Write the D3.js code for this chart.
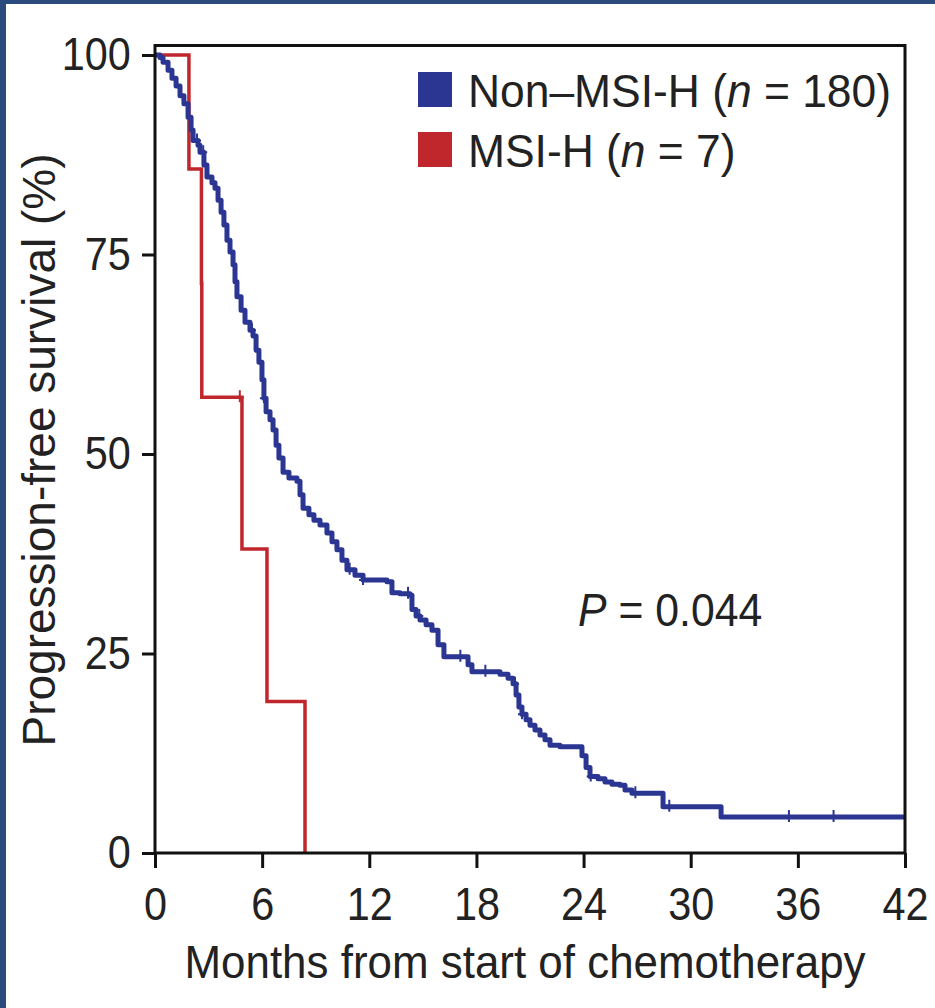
<!DOCTYPE html>
<html>
<head>
<meta charset="utf-8">
<script src="https://cdn.jsdelivr.net/npm/d3@7"></script>
<style>
  html, body { margin: 0; padding: 0; background: #ffffff; }
  svg { display: block; }
  text { font-family: "Liberation Sans", Arial, Helvetica, sans-serif; fill: #222; }
</style>
</head>
<body>
<svg id="chart" width="935" height="1008"></svg>
<script>
// ---------- Data ----------
const xTicks = [0, 6, 12, 18, 24, 30, 36, 42];
const yTicks = [0, 25, 50, 75, 100];

const seriesNames = ["Non\u2013MSI-H", "MSI-H"];
const seriesN = [180, 7];

// Non-MSI-H Kaplan–Meier steps: time (months), survival (%)
const blueTimes = [0, 0.28, 0.45, 0.73, 0.95, 1.18, 1.40, 1.62, 1.85, 2.02, 2.13, 2.41, 2.52, 2.74, 2.91, 3.19, 3.36, 3.53, 3.70, 3.86, 4.03, 4.20, 4.37, 4.48, 4.59, 4.82, 5.04, 5.32, 5.49, 5.66, 5.82, 5.99, 6.10, 6.22, 6.44, 6.61, 6.78, 6.94, 7.17, 7.50, 7.95, 8.12, 8.29, 8.62, 8.90, 9.24, 9.63, 9.91, 10.19, 10.47, 10.75, 11.20, 11.65, 12.32, 12.99, 13.27, 13.72, 14.28, 14.39, 14.62, 14.84, 15.18, 15.51, 15.85, 16.18, 16.63, 17.53, 17.75, 19.32, 19.77, 20.05, 20.22, 20.38, 20.55, 20.78, 21.00, 21.28, 21.56, 21.84, 22.12, 22.68, 23.91, 24.14, 24.36, 24.81, 25.20, 25.59, 26.04, 26.32, 26.71, 28.45, 31.70, 42];
const blueSurv  = [100, 99.7, 99.1, 98.1, 97.1, 96.1, 94.9, 93.9, 92.2, 90.6, 89.3, 88.7, 87.8, 86.2, 84.7, 84.0, 83.3, 81.8, 80.3, 78.7, 76.8, 75.3, 73.7, 71.6, 69.7, 68.0, 66.5, 65.5, 64.8, 63.0, 61.5, 59.3, 57.0, 55.3, 54.3, 53.0, 51.1, 49.5, 47.7, 47.0, 46.6, 44.9, 43.2, 42.4, 41.7, 41.1, 40.1, 39.0, 38.0, 36.7, 35.5, 34.8, 34.2, 34.2, 34.0, 32.6, 32.5, 32.3, 30.5, 29.7, 29.2, 28.6, 27.9, 26.1, 24.6, 24.6, 23.6, 22.7, 22.4, 21.9, 21.2, 19.8, 18.3, 17.4, 16.7, 16.0, 15.4, 14.8, 14.2, 13.5, 13.3, 12.2, 10.7, 9.6, 9.3, 8.9, 8.6, 8.5, 7.9, 7.5, 5.8, 4.5, 4.5];
const blueCensor = [2.35, 2.7, 5.43, 6.1, 10.9, 11.65, 14.17, 14.8, 17.1, 18.5, 20.16, 20.55, 24.4, 26.9, 28.8, 35.5, 38.0];

// MSI-H Kaplan–Meier steps
const redTimes = [0, 1.9, 2.6, 2.62, 4.87, 6.27, 8.4];
const redSurv  = [100, 85.7, 71.4, 57.1, 38.1, 19.0, 0];
const redCensor = [4.75];

const pValueLabel = "0.044";

// ---------- Chart ----------
const svg = d3.select("#chart");
const W = 935, H = 1008;

svg.append("rect").attr("width", W).attr("height", H).attr("fill", "#ffffff");
// navy page border (top and left)
svg.append("rect").attr("x", 0).attr("y", 0).attr("width", W).attr("height", 4).attr("fill", "#2a4b7c");
svg.append("rect").attr("x", 0).attr("y", 0).attr("width", 6).attr("height", H).attr("fill", "#2a4b7c");

const x = d3.scaleLinear().domain([0, 42]).range([155, 905]);
const y = d3.scaleLinear().domain([0, 100]).range([853, 55]);

const blueColor = "#2b3592";
const redColor = "#c0272d";

// curves
const line = d3.line().x(d => x(d[0])).y(d => y(d[1])).curve(d3.curveStepAfter);
const blueData = blueTimes.map((t, i) => [t, blueSurv[i]]);
const redData = redTimes.map((t, i) => [t, redSurv[i]]);

function survAt(times, surv, t) {
  const i = d3.bisectRight(times, t) - 1;
  return surv[Math.max(0, i)];
}

svg.append("path").datum(redData).attr("d", line)
  .attr("fill", "none").attr("stroke", redColor).attr("stroke-width", 3.5);

svg.append("path").datum(blueData).attr("d", line)
  .attr("fill", "none").attr("stroke", blueColor).attr("stroke-width", 5)
  .attr("stroke-linejoin", "round");

// censor marks
function censor(times, surv, list, color) {
  svg.append("g").selectAll("path").data(list).join("path")
    .attr("d", t => {
      const cx = x(t), cy = y(survAt(times, surv, t));
      return `M${cx},${cy - 7}V${cy + 5}M${cx - 4},${cy}H${cx + 4}`;
    })
    .attr("stroke", color).attr("stroke-width", 2).attr("fill", "none");
}
censor(blueTimes, blueSurv, blueCensor, blueColor);
censor(redTimes, redSurv, redCensor, redColor);

// frame (axes box)
svg.append("path")
  .attr("d", `M${x(0)},${y(0)}V${y(101.2)}H${x(42)}V${y(0)}Z`)
  .attr("fill", "none").attr("stroke", "#111").attr("stroke-width", 3);

// axes
const xAxis = svg.append("g").attr("transform", `translate(0,${y(0)})`)
  .call(d3.axisBottom(x).tickValues(xTicks).tickSize(15).tickPadding(19));
const yAxis = svg.append("g").attr("transform", `translate(${x(0)},0)`)
  .call(d3.axisLeft(y).tickValues(yTicks).tickSize(13).tickPadding(14));
[xAxis, yAxis].forEach(a => {
  a.select(".domain").remove();
  a.selectAll(".tick line").attr("stroke", "#111").attr("stroke-width", 3);
  a.selectAll(".tick text").attr("font-size", 46).attr("fill", "#222")
    .style("font-family", '"Liberation Sans", Arial, sans-serif');
});
xAxis.selectAll(".tick text").attr("transform", "scale(0.9,1)");
yAxis.selectAll(".tick text").attr("transform", "scale(0.9,1)");

// axis titles
svg.append("g").attr("transform", `translate(${(x(0) + x(42)) / 2 - 5},978) scale(0.955,1)`)
  .append("text").attr("text-anchor", "middle").attr("font-size", 46)
  .text("Months from start of chemotherapy");

svg.append("g").attr("transform", `translate(55,${(y(0) + y(100)) / 2 - 4}) rotate(-90)`)
  .append("text").attr("text-anchor", "middle").attr("font-size", 46)
  .text("Progression-free survival (%)");

// legend
const legColors = [blueColor, redColor];
const leg = svg.append("g");
seriesNames.forEach((name, i) => {
  const g = leg.append("g").attr("transform", `translate(418,${72 + i * 60})`);
  g.append("rect").attr("width", 34).attr("height", 35).attr("fill", legColors[i]);
  const t = g.append("g").attr("transform", "translate(50,35) scale(0.965,1)")
    .append("text").attr("font-size", 46);
  t.append("tspan").text(name + " (");
  t.append("tspan").attr("font-style", "italic").text("n");
  t.append("tspan").text(" = " + seriesN[i] + ")");
});

// P value
const pt = svg.append("g").attr("transform", "translate(578,626) scale(0.93,1)")
  .append("text").attr("font-size", 46);
pt.append("tspan").attr("font-style", "italic").text("P");
pt.append("tspan").text(" = " + pValueLabel);
</script>
</body>
</html>
